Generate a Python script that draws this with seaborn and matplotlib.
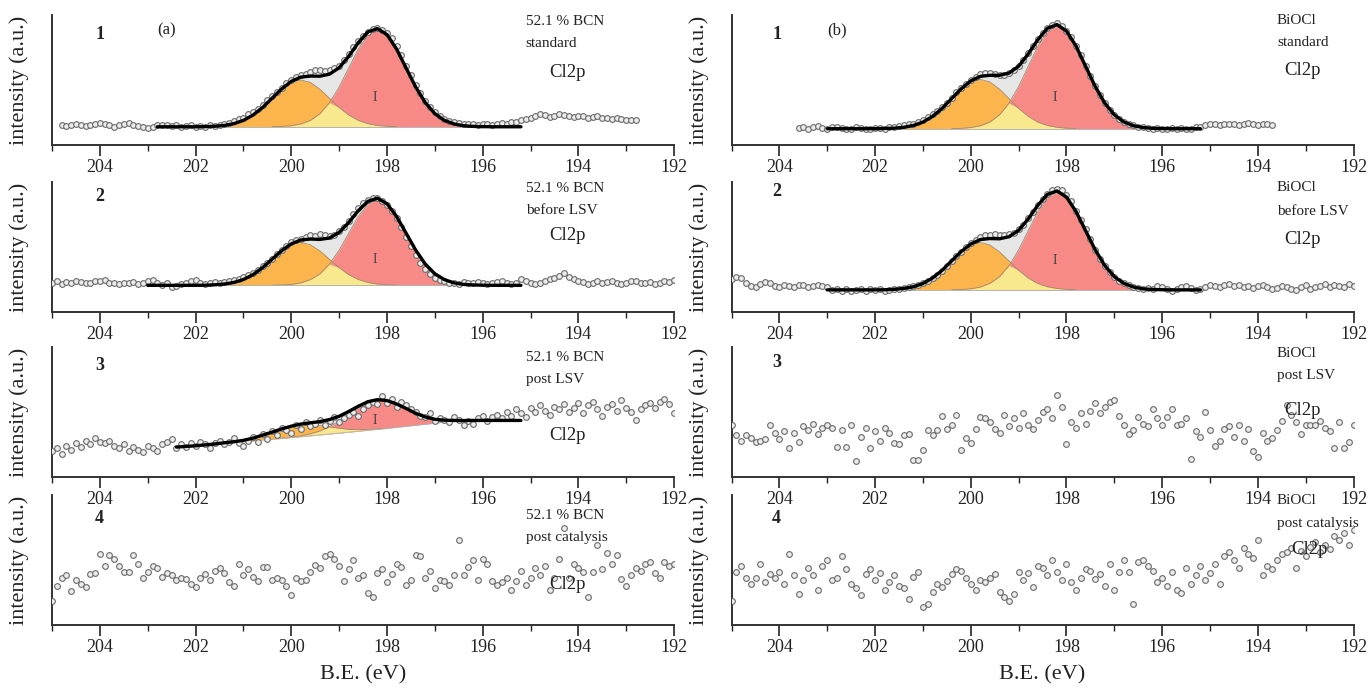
import numpy as np
import seaborn as sns
import matplotlib.pyplot as plt
from matplotlib.ticker import MultipleLocator

# Measured points, intensity scaled 0..1 inside each panel, 0.1 eV steps going down in B.E.
pts_start = {'1a': 204.8, '1b': 203.6, '2a': 205.0, '2b': 205.0,
             '3a': 205.0, '3b': 205.0, '4a': 205.0, '4b': 205.0}

pts_1a = [0.15, 0.145, 0.155, 0.16, 0.15, 0.145, 0.155, 0.165, 0.17, 0.16, 0.15, 0.14, 0.15, 0.16, 0.17,
          0.155, 0.145, 0.135, 0.13, 0.135,
          0.15, 0.155, 0.15, 0.145, 0.15, 0.14, 0.145, 0.15, 0.14, 0.145, 0.14, 0.15, 0.145, 0.155,
          0.16, 0.17, 0.185, 0.2, 0.21, 0.235, 0.255, 0.28, 0.31, 0.345, 0.375, 0.41, 0.44, 0.475, 0.5,
          0.52, 0.535, 0.545, 0.56, 0.58, 0.575, 0.57, 0.575, 0.59, 0.61, 0.65, 0.7, 0.75, 0.8, 0.84,
          0.87, 0.89, 0.9, 0.885, 0.86, 0.82, 0.76, 0.69, 0.61, 0.535, 0.46, 0.4, 0.34, 0.29, 0.25,
          0.22, 0.2, 0.185, 0.175, 0.17, 0.165, 0.16, 0.165, 0.155, 0.16, 0.165, 0.155, 0.16, 0.17,
          0.165, 0.175, 0.18, 0.19, 0.2, 0.21, 0.22, 0.235, 0.23, 0.215, 0.225, 0.24, 0.23, 0.22,
          0.215, 0.225, 0.22, 0.21, 0.215, 0.22, 0.21, 0.205, 0.2, 0.205, 0.2, 0.195, 0.19, 0.195]

pts_1b = [0.13, 0.135, 0.125, 0.14, 0.145, 0.13, 0.125, 0.135, 0.14, 0.13, 0.12, 0.125, 0.135, 0.13,
          0.12, 0.125, 0.13,
          0.13, 0.125, 0.135, 0.14, 0.145, 0.15, 0.16, 0.165, 0.18, 0.195, 0.215, 0.235, 0.26, 0.29,
          0.325, 0.365, 0.405, 0.44, 0.47, 0.5, 0.525, 0.545, 0.555, 0.55, 0.545, 0.54, 0.535, 0.55,
          0.575, 0.61, 0.65, 0.71, 0.76, 0.815, 0.86, 0.9, 0.925, 0.935, 0.915, 0.88, 0.83, 0.765,
          0.69, 0.61, 0.53, 0.455, 0.385, 0.325, 0.27, 0.23, 0.2, 0.175, 0.16, 0.15, 0.14, 0.135,
          0.13, 0.125, 0.13, 0.12, 0.125, 0.13, 0.125, 0.13, 0.12, 0.125, 0.135, 0.14, 0.15, 0.16,
          0.165, 0.155, 0.16, 0.165, 0.16, 0.155, 0.165, 0.17, 0.16, 0.155, 0.165, 0.16, 0.15]

pts_2a = [0.22, 0.235, 0.215, 0.23, 0.225, 0.24, 0.23, 0.22, 0.225, 0.235, 0.24, 0.245, 0.225, 0.22,
          0.215, 0.225, 0.22, 0.23, 0.215, 0.225,
          0.235, 0.245, 0.225, 0.21, 0.22, 0.19, 0.2, 0.215, 0.225, 0.24, 0.245, 0.225, 0.215, 0.22,
          0.23, 0.225,
          0.23, 0.235, 0.245, 0.255, 0.27, 0.285, 0.3, 0.32, 0.35, 0.38, 0.41, 0.445, 0.48, 0.51,
          0.535, 0.55, 0.565, 0.58, 0.59, 0.585, 0.6, 0.59, 0.585, 0.595, 0.62, 0.655, 0.7, 0.75,
          0.8, 0.84, 0.865, 0.875, 0.88, 0.85, 0.82, 0.775, 0.72, 0.65, 0.58, 0.51, 0.44, 0.38,
          0.33, 0.29, 0.265, 0.245, 0.235, 0.225, 0.22, 0.215, 0.23, 0.22, 0.225,
          0.23, 0.225, 0.215, 0.22, 0.23, 0.24, 0.225, 0.215, 0.22, 0.25, 0.235, 0.22, 0.215, 0.225,
          0.24, 0.255, 0.265, 0.28, 0.3, 0.27, 0.255, 0.24, 0.23, 0.215, 0.22, 0.235, 0.225, 0.23,
          0.24, 0.225, 0.215, 0.22, 0.235, 0.24, 0.225, 0.22, 0.23, 0.215, 0.225, 0.235, 0.23, 0.245]

pts_2b = [0.25, 0.27, 0.26, 0.22, 0.2, 0.19, 0.215, 0.23, 0.22, 0.2, 0.195, 0.21, 0.2, 0.19, 0.205,
          0.21, 0.195, 0.2, 0.21, 0.2, 0.19,
          0.17, 0.175, 0.165, 0.18, 0.16, 0.17, 0.175, 0.165, 0.18, 0.17, 0.175, 0.165, 0.17, 0.18,
          0.175,
          0.185, 0.19, 0.2, 0.21, 0.225, 0.24, 0.26, 0.285, 0.315, 0.35, 0.39, 0.43, 0.465, 0.5,
          0.53, 0.555, 0.575, 0.59, 0.595, 0.6, 0.59, 0.595, 0.6, 0.61, 0.64, 0.67, 0.72, 0.77,
          0.82, 0.87, 0.91, 0.935, 0.945, 0.935, 0.9, 0.85, 0.78, 0.71, 0.635, 0.56, 0.48, 0.41,
          0.355, 0.31, 0.27, 0.24, 0.22, 0.205, 0.19, 0.185, 0.18,
          0.185, 0.175, 0.2, 0.19, 0.175, 0.165, 0.18, 0.19, 0.2, 0.185, 0.17, 0.18, 0.195, 0.21,
          0.2, 0.19, 0.205, 0.215, 0.2, 0.21, 0.195, 0.2, 0.185, 0.2, 0.21, 0.19, 0.175, 0.185,
          0.2, 0.19, 0.18, 0.17, 0.195, 0.205, 0.18, 0.19, 0.2, 0.215, 0.19, 0.21, 0.2, 0.195,
          0.215, 0.2]

pts_3a = [0.2, 0.22, 0.18, 0.24, 0.21, 0.26, 0.23, 0.28, 0.25, 0.3, 0.27, 0.26, 0.28, 0.24, 0.22,
          0.25, 0.2, 0.23, 0.21, 0.19, 0.24, 0.22, 0.2, 0.25, 0.27, 0.29,
          0.22, 0.25, 0.23, 0.26, 0.24, 0.27, 0.25, 0.22, 0.26, 0.28,
          0.25, 0.27, 0.3, 0.26, 0.24, 0.28, 0.31, 0.27, 0.33, 0.29,
          0.35, 0.32, 0.38, 0.36, 0.34, 0.4, 0.37, 0.42, 0.39, 0.41,
          0.44, 0.4, 0.43, 0.46, 0.42, 0.45, 0.48, 0.5, 0.47, 0.52,
          0.55, 0.58, 0.56, 0.62, 0.57, 0.6, 0.54, 0.58, 0.55, 0.52,
          0.5, 0.47, 0.46, 0.49, 0.43, 0.45, 0.44,
          0.42, 0.46, 0.44, 0.4, 0.43, 0.41, 0.45, 0.47, 0.43, 0.46,
          0.48, 0.45, 0.5, 0.47, 0.52, 0.49, 0.46, 0.53, 0.5, 0.55,
          0.51, 0.48, 0.54, 0.52, 0.56, 0.5, 0.53, 0.57, 0.49, 0.55,
          0.58, 0.52, 0.47, 0.54, 0.56, 0.51, 0.59, 0.53, 0.5, 0.44,
          0.52, 0.55, 0.57, 0.53, 0.58, 0.6, 0.56, 0.49]

pts_3b = [0.4, 0.32, 0.28, 0.32, 0.3, 0.27, 0.28, 0.29, 0.4, 0.34,
          0.29, 0.35, 0.22, 0.34, 0.27, 0.39, 0.36, 0.41, 0.33, 0.38,
          0.4, 0.38, 0.23, 0.36, 0.23, 0.4, 0.12, 0.31, 0.38, 0.22,
          0.35, 0.28, 0.38, 0.34, 0.26, 0.25, 0.32, 0.33, 0.13, 0.13,
          0.21, 0.36, 0.32, 0.36, 0.47, 0.37, 0.4, 0.48, 0.21, 0.3,
          0.26, 0.37, 0.46, 0.45, 0.42, 0.37, 0.34, 0.48, 0.39, 0.45,
          0.38, 0.49, 0.4, 0.37, 0.44, 0.5, 0.52, 0.45, 0.63, 0.54,
          0.25, 0.42, 0.38, 0.49, 0.41, 0.51, 0.57, 0.49, 0.54, 0.58,
          0.59, 0.47, 0.4, 0.33, 0.36, 0.46, 0.41, 0.39, 0.52, 0.45,
          0.4, 0.46, 0.52, 0.4, 0.41, 0.45, 0.14, 0.35, 0.31, 0.5,
          0.36, 0.24, 0.28, 0.37, 0.39, 0.31, 0.4, 0.28, 0.37, 0.2,
          0.15, 0.34, 0.28, 0.3, 0.36, 0.43, 0.55, 0.48, 0.42, 0.33,
          0.4, 0.4, 0.4, 0.43, 0.38, 0.35, 0.22, 0.42, 0.22, 0.27, 0.4]

pts_4a = [0.2, 0.33, 0.4, 0.42, 0.29, 0.38, 0.35, 0.32, 0.43, 0.44,
          0.6, 0.5, 0.59, 0.56, 0.5, 0.45, 0.45, 0.59, 0.52, 0.4,
          0.45, 0.5, 0.48, 0.41, 0.44, 0.42, 0.38, 0.4, 0.39, 0.35,
          0.32, 0.4, 0.43, 0.38, 0.46, 0.48, 0.44, 0.36, 0.33, 0.52,
          0.42, 0.47, 0.41, 0.37, 0.49, 0.49, 0.38, 0.4, 0.38, 0.33,
          0.25, 0.4, 0.37, 0.38, 0.45, 0.51, 0.48, 0.58, 0.6, 0.56,
          0.5, 0.37, 0.47, 0.55, 0.4, 0.42, 0.27, 0.24, 0.44, 0.47,
          0.36, 0.43, 0.52, 0.49, 0.34, 0.38, 0.59, 0.58, 0.4, 0.46,
          0.31, 0.38, 0.37, 0.34, 0.42, 0.72, 0.42, 0.49, 0.55, 0.38,
          0.56, 0.52, 0.37, 0.34, 0.36, 0.4, 0.3, 0.37, 0.46, 0.34,
          0.4, 0.48, 0.42, 0.5, 0.3, 0.4, 0.56, 0.82, 0.4, 0.52,
          0.48, 0.45, 0.24, 0.45, 0.68, 0.47, 0.61, 0.52, 0.59, 0.39,
          0.33, 0.42, 0.48, 0.46, 0.52, 0.53, 0.44, 0.4, 0.53, 0.5, 0.52]

pts_4b = [0.2, 0.45, 0.5, 0.4, 0.35, 0.4, 0.52, 0.36, 0.43, 0.4,
          0.45, 0.35, 0.6, 0.42, 0.26, 0.38, 0.48, 0.42, 0.3, 0.5,
          0.55, 0.38, 0.4, 0.58, 0.47, 0.35, 0.31, 0.25, 0.43, 0.47,
          0.38, 0.44, 0.3, 0.36, 0.42, 0.33, 0.31, 0.22, 0.41, 0.45,
          0.15, 0.18, 0.28, 0.35, 0.32, 0.37, 0.43, 0.47, 0.46, 0.4,
          0.35, 0.3, 0.38, 0.36, 0.4, 0.43, 0.28, 0.24, 0.2, 0.26,
          0.45, 0.38, 0.44, 0.32, 0.5, 0.48, 0.42, 0.55, 0.45, 0.38,
          0.52, 0.36, 0.3, 0.4, 0.47, 0.46, 0.39, 0.43, 0.33, 0.52,
          0.3, 0.45, 0.55, 0.45, 0.18, 0.53, 0.55, 0.5, 0.46, 0.36,
          0.4, 0.33, 0.45, 0.3, 0.27, 0.48, 0.35, 0.42, 0.5, 0.38,
          0.44, 0.52, 0.35, 0.58, 0.62, 0.55, 0.48, 0.65, 0.6, 0.57,
          0.72, 0.42, 0.5, 0.47, 0.55, 0.6, 0.62, 0.65, 0.48, 0.63,
          0.58, 0.66, 0.7, 0.62, 0.68, 0.64, 0.75, 0.72, 0.78, 0.68, 0.8]

points = {'1a': pts_1a, '1b': pts_1b, '2a': pts_2a, '2b': pts_2b,
          '3a': pts_3a, '3b': pts_3b, '4a': pts_4a, '4b': pts_4b}

# Fitted Cl2p components (height above background) on a 0.2 eV grid
fit_start = {'1a': 202.8, '1b': 203.0, '2a': 203.0, '2b': 203.0, '3a': 202.4}

orange_1a = [0, 0, 0, 0, 0, 0.001, 0.004, 0.010, 0.024, 0.049, 0.090, 0.148, 0.219, 0.288, 0.341,
             0.360, 0.341, 0.288, 0.219, 0.148, 0.090, 0.049, 0.024, 0.010, 0.004, 0.001, 0,
             0, 0, 0, 0, 0, 0, 0, 0, 0, 0, 0, 0]
red_1a = [0, 0, 0, 0, 0, 0, 0, 0, 0, 0, 0, 0, 0.001, 0.003, 0.008, 0.022, 0.049, 0.101, 0.186,
          0.306, 0.452, 0.597, 0.705, 0.745, 0.705, 0.597, 0.452, 0.306, 0.186, 0.101, 0.049,
          0.022, 0.008, 0.003, 0.001, 0, 0, 0, 0]

orange_1b = [0, 0, 0, 0, 0, 0, 0.002, 0.004, 0.011, 0.025, 0.051, 0.095, 0.156, 0.231, 0.304,
             0.359, 0.380, 0.359, 0.304, 0.231, 0.156, 0.095, 0.051, 0.025, 0.011, 0.004, 0.002,
             0, 0, 0, 0, 0, 0, 0, 0, 0, 0, 0, 0, 0]
red_1b = [0, 0, 0, 0, 0, 0, 0, 0, 0, 0, 0, 0, 0, 0.001, 0.003, 0.009, 0.023, 0.052, 0.107, 0.197,
          0.325, 0.480, 0.633, 0.747, 0.790, 0.747, 0.633, 0.480, 0.325, 0.197, 0.107, 0.052,
          0.023, 0.009, 0.003, 0.001, 0, 0, 0, 0]

orange_2a = [0, 0, 0, 0, 0, 0, 0.001, 0.004, 0.010, 0.022, 0.045, 0.082, 0.136, 0.200, 0.264,
             0.312, 0.330, 0.312, 0.264, 0.200, 0.136, 0.082, 0.045, 0.022, 0.010, 0.004, 0.001,
             0, 0, 0, 0, 0, 0, 0, 0, 0, 0, 0, 0, 0]
red_2a = [0, 0, 0, 0, 0, 0, 0, 0, 0, 0, 0, 0, 0, 0.001, 0.003, 0.007, 0.019, 0.044, 0.089, 0.164,
          0.271, 0.401, 0.529, 0.624, 0.660, 0.624, 0.529, 0.401, 0.271, 0.164, 0.089, 0.044,
          0.019, 0.007, 0.003, 0.001, 0, 0, 0, 0]

orange_2b = [0, 0, 0, 0, 0, 0, 0.001, 0.004, 0.011, 0.024, 0.049, 0.091, 0.150, 0.222, 0.292,
             0.345, 0.365, 0.345, 0.292, 0.222, 0.150, 0.091, 0.049, 0.024, 0.011, 0.004, 0.001,
             0, 0, 0, 0, 0, 0, 0, 0, 0, 0, 0, 0, 0]
red_2b = [0, 0, 0, 0, 0, 0, 0, 0, 0, 0, 0, 0, 0, 0.001, 0.003, 0.008, 0.022, 0.050, 0.101, 0.187,
          0.308, 0.455, 0.601, 0.710, 0.750, 0.710, 0.601, 0.455, 0.308, 0.187, 0.101, 0.050,
          0.022, 0.008, 0.003, 0.001, 0, 0, 0, 0]

orange_3a = [0, 0, 0, 0, 0.001, 0.003, 0.006, 0.012, 0.022, 0.037, 0.055, 0.072, 0.085, 0.090,
             0.085, 0.072, 0.055, 0.037, 0.022, 0.012, 0.006, 0.003, 0.001, 0, 0,
             0, 0, 0, 0, 0, 0, 0, 0, 0, 0, 0, 0]
red_3a = [0, 0, 0, 0, 0, 0, 0, 0, 0, 0, 0, 0.001, 0.002, 0.007, 0.015, 0.030, 0.056, 0.092, 0.137,
          0.180, 0.213, 0.225, 0.213, 0.180, 0.137, 0.092, 0.056, 0.030, 0.015, 0.007, 0.002,
          0.001, 0, 0, 0, 0, 0]

# background under the peaks (flat level, or sloped list for 3a)
background = {'1a': 0.14, '1b': 0.125, '2a': 0.205, '2b': 0.17,
              '3a': [0.230, 0.235, 0.24, 0.247, 0.253, 0.26, 0.265, 0.27, 0.277, 0.285, 0.29,
                     0.297, 0.304, 0.31, 0.317, 0.324, 0.331, 0.338, 0.345, 0.352, 0.36, 0.367,
                     0.374, 0.382, 0.39, 0.398, 0.406, 0.414, 0.422, 0.428, 0.432, 0.434, 0.435,
                     0.435, 0.435, 0.435, 0.435]}

components = {'1a': (orange_1a, red_1a), '1b': (orange_1b, red_1b), '2a': (orange_2a, red_2a),
              '2b': (orange_2b, red_2b), '3a': (orange_3a, red_3a)}

# panel texts
sample_a = '52.1 % BCN'
sample_b = 'BiOCl'
states = ['standard', 'before LSV', 'post LSV', 'post catalysis']

# x in eV, y as fraction of the panel height
text_pos = {
    '1a': dict(num=(204.1, 0.85), tag=(202.8, 0.88), lab=(195.1, 0.95, 0.78), cl=(194.6, 0.555)),
    '1b': dict(num=(204.15, 0.85), tag=(203.0, 0.88), lab=(193.6, 0.96, 0.79), cl=(193.45, 0.57)),
    '2a': dict(num=(204.1, 0.89), lab=(195.1, 0.95, 0.78), cl=(194.6, 0.585)),
    '2b': dict(num=(204.15, 0.93), lab=(193.6, 0.96, 0.77), cl=(193.45, 0.56)),
    '3a': dict(num=(204.1, 0.86), lab=(195.1, 0.92, 0.75), cl=(194.6, 0.32)),
    '3b': dict(num=(204.15, 0.88), lab=(193.6, 0.95, 0.78), cl=(193.45, 0.51)),
    '4a': dict(num=(204.1, 0.82), lab=(195.1, 0.845, 0.67), cl=(194.6, 0.31)),
    '4b': dict(num=(204.15, 0.82), lab=(193.6, 0.96, 0.78), cl=(193.3, 0.58)),
}
y_top = {'1a': 1.0, '1b': 1.0, '2a': 1.0, '2b': 1.0, '3a': 1.0, '3b': 1.0, '4a': 1.1, '4b': 1.1}

sns.set_theme(style='ticks')
plt.rcParams['font.family'] = ['Liberation Serif', 'DejaVu Serif']

fig = plt.figure(figsize=(13.7, 6.89), dpi=100)

col_left = [0.038, 0.534]
col_width = 0.454
row_h = 0.1887
row_bottom = [0.7896, 0.5472, 0.3077, 0.0929]

c_orange = '#FBB54C'
c_yellow = '#F8E88E'
c_red = '#F78A86'
c_gray = '#E6E6E6'
c_text = '#222222'


def draw_panel(ax, key, row, col):
    ax.patch.set_alpha(0)
    if key in components:
        o, r = components[key]
        o = np.array(o)
        r = np.array(r)
        grid = fit_start[key] - 0.2 * np.arange(len(o))
        base = background[key]
        if np.isscalar(base):
            base = np.full(len(o), base)
        base = np.array(base)
        env = base + o + r
        ax.fill_between(grid, base, env, color=c_gray, lw=0, zorder=1)
        ax.fill_between(grid, base, base + o, color=c_orange, lw=0, zorder=1.2)
        ax.fill_between(grid, base, base + r, color=c_red, lw=0, zorder=1.3)
        ax.fill_between(grid, base, base + np.minimum(o, r), color=c_yellow, lw=0, zorder=1.4)
        for comp in (o, r):
            mask = comp > 0.0005
            ax.plot(grid[mask], (base + comp)[mask], color='#a08c70', lw=0.6, zorder=1.5)
        ax.plot(grid, base, color='#b0b0b0', lw=0.6, zorder=1.5)
        i_peak = int(np.argmax(r))
        ax.text(grid[i_peak] + 0.05, base[i_peak] + r[i_peak] * 0.3, 'I', fontsize=10,
                color='#444444', ha='center', va='center', zorder=2)

    y = np.array(points[key])
    x = pts_start[key] - 0.1 * np.arange(len(y))
    sns.scatterplot(x=x, y=y, ax=ax, s=17, color='#ececec', edgecolor='#6a6a6a',
                    linewidth=0.8, zorder=3, legend=False)

    if key in components:
        sns.lineplot(x=grid, y=env, ax=ax, color='black', lw=2.4, sort=False,
                     estimator=None, zorder=4)

    ax.set_xlim(205, 192)
    ax.set_ylim(0, y_top[key])
    ax.set_yticks([])
    ax.xaxis.set_major_locator(MultipleLocator(2))
    ax.xaxis.set_minor_locator(MultipleLocator(1))
    ax.tick_params(axis='x', which='major', direction='out', length=8, width=1.2,
                   labelsize=13, pad=2, colors=c_text)
    ax.tick_params(axis='x', which='minor', direction='out', length=4.5, width=1.0, colors=c_text)
    for side in ['top', 'right']:
        ax.spines[side].set_visible(False)
    for side in ['left', 'bottom']:
        ax.spines[side].set_color('#333333')
        ax.spines[side].set_linewidth(1.4)
    ax.set_ylabel('intensity (a.u.)', fontsize=16, color=c_text)
    ax.yaxis.set_label_coords(-0.037, 0.5)
    if row == 3:
        ax.set_xlabel('B.E. (eV)', fontsize=16, color=c_text, labelpad=7)
    else:
        ax.set_xlabel('')

    tr = ax.get_xaxis_transform()
    tp = text_pos[key]
    ax.text(tp['num'][0], tp['num'][1], str(row + 1), transform=tr, fontsize=13,
            fontweight='bold', va='center', ha='left', color=c_text)
    if 'tag' in tp:
        ax.text(tp['tag'][0], tp['tag'][1], '(a)' if col == 0 else '(b)', transform=tr,
                fontsize=12, va='center', ha='left', color=c_text)
    lx, ly1, ly2 = tp['lab']
    ax.text(lx, ly1, sample_a if col == 0 else sample_b, transform=tr, fontsize=11,
            va='center', ha='left', color=c_text)
    ax.text(lx, ly2, states[row], transform=tr, fontsize=11, va='center', ha='left',
            color=c_text)
    ax.text(tp['cl'][0], tp['cl'][1], 'Cl2p', transform=tr, fontsize=13.5, va='center',
            ha='left', color=c_text)


for row in range(4):
    for col in range(2):
        key = f"{row + 1}{'ab'[col]}"
        ax = fig.add_axes([col_left[col], row_bottom[row], col_width, row_h])
        draw_panel(ax, key, row, col)

fig.savefig('out.png', dpi=100)
